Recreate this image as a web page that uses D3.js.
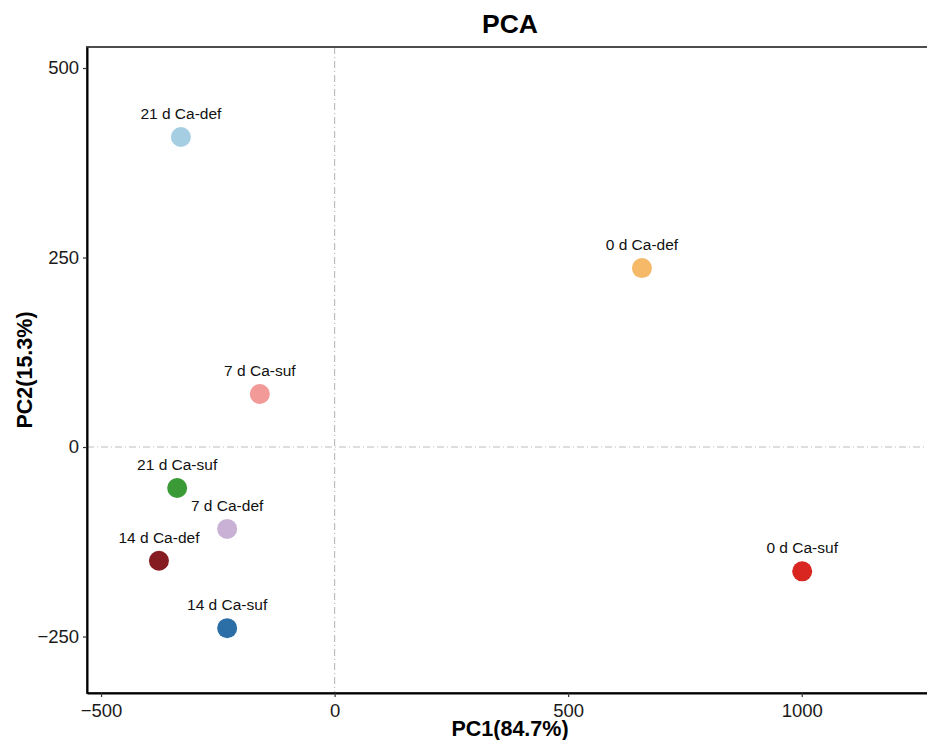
<!DOCTYPE html>
<html>
<head>
<meta charset="utf-8">
<script src="https://cdn.jsdelivr.net/npm/d3@7"></script>
<style>
  html, body { margin: 0; padding: 0; background: #fff; overflow: hidden; }
  svg { display: block; font-family: "Liberation Sans", Arial, sans-serif; }
</style>
</head>
<body>
<svg id="chart" width="927" height="740"></svg>
<script>
// PCA sample scores
const samples = ["21 d Ca-def", "0 d Ca-def", "7 d Ca-suf", "21 d Ca-suf", "7 d Ca-def", "14 d Ca-def", "14 d Ca-suf", "0 d Ca-suf"];
const pc1 = [-329, 658, -160, -337, -230, -376, -230, 1001];
const pc2 = [409, 236, 70, -54, -108, -150, -239, -164];
const colors = ["#a6cee3", "#f6b968", "#f29a98", "#3a9a35", "#c9b1d5", "#851c21", "#2b6fa6", "#da2620"];
const xTicks = [-500, 0, 500, 1000];
const yTicks = [-250, 0, 250, 500];
const title = "PCA";
const xTitle = "PC1(84.7%)";
const yTitle = "PC2(15.3%)";

const svg = d3.select("#chart");
const panel = { left: 87, right: 933, top: 47, bottom: 693 };

const x = d3.scaleLinear().domain([-530, 1281]).range([panel.left, panel.right]);
const y = d3.scaleLinear().domain([-324.5, 527.7]).range([panel.bottom, panel.top]);

// reference lines through the origin
const refStyle = sel => sel.attr("stroke", "#bdbdbd").attr("stroke-width", 1.2)
  .attr("stroke-dasharray", "7,3,1,3");
svg.append("line").attr("x1", panel.left).attr("x2", panel.right)
  .attr("y1", y(0)).attr("y2", y(0)).call(refStyle);
svg.append("line").attr("x1", x(0)).attr("x2", x(0))
  .attr("y1", panel.top).attr("y2", panel.bottom).call(refStyle);

// panel border (top/right) and axis lines (left/bottom)
svg.append("rect").attr("x", panel.left).attr("y", panel.top)
  .attr("width", panel.right - panel.left).attr("height", panel.bottom - panel.top)
  .attr("fill", "none").attr("stroke", "#4d4d4d").attr("stroke-width", 2);

const fmt = d => d < 0 ? "\u2212" + Math.abs(d) : d;
const xAxis = svg.append("g").attr("transform", `translate(0,${panel.bottom})`)
  .call(d3.axisBottom(x).tickValues(xTicks).tickSize(4).tickSizeOuter(0).tickFormat(fmt));
const yAxis = svg.append("g").attr("transform", `translate(${panel.left},0)`)
  .call(d3.axisLeft(y).tickValues(yTicks).tickSize(4).tickSizeOuter(0).tickFormat(fmt));

[xAxis, yAxis].forEach(a => {
  a.select(".domain").attr("stroke", "#000").attr("stroke-width", 2);
  a.selectAll(".tick line").attr("stroke", "#333").attr("stroke-width", 1.2);
  a.selectAll(".tick text").attr("fill", "#1a1a1a").attr("font-size", 18.5)
    .attr("font-family", "Liberation Sans, Arial, sans-serif");
});
xAxis.selectAll(".tick text").attr("dy", "0.9em");
yAxis.selectAll(".tick text").attr("dx", "-0.05em");

// points and labels
const data = samples.map((s, i) => ({ name: s, x: pc1[i], y: pc2[i], c: colors[i] }));
svg.append("g").selectAll("circle").data(data).join("circle")
  .attr("cx", d => x(d.x)).attr("cy", d => y(d.y)).attr("r", 10)
  .attr("fill", d => d.c);
svg.append("g").selectAll("text").data(data).join("text")
  .attr("x", d => x(d.x)).attr("y", d => y(d.y) - 18)
  .attr("text-anchor", "middle").attr("font-size", 15.5).attr("fill", "#111")
  .text(d => d.name);

// titles
svg.append("text").attr("x", (panel.left + panel.right) / 2).attr("y", 33)
  .attr("text-anchor", "middle").attr("font-size", 26.5).attr("font-weight", "bold")
  .text(title);
svg.append("text").attr("x", (panel.left + panel.right) / 2).attr("y", 736)
  .attr("text-anchor", "middle").attr("font-size", 21.5).attr("font-weight", "bold")
  .text(xTitle);
svg.append("text").attr("transform", `translate(32,${(panel.top + panel.bottom) / 2}) rotate(-90)`)
  .attr("text-anchor", "middle").attr("font-size", 21.5).attr("font-weight", "bold")
  .text(yTitle);
</script>
</body>
</html>
